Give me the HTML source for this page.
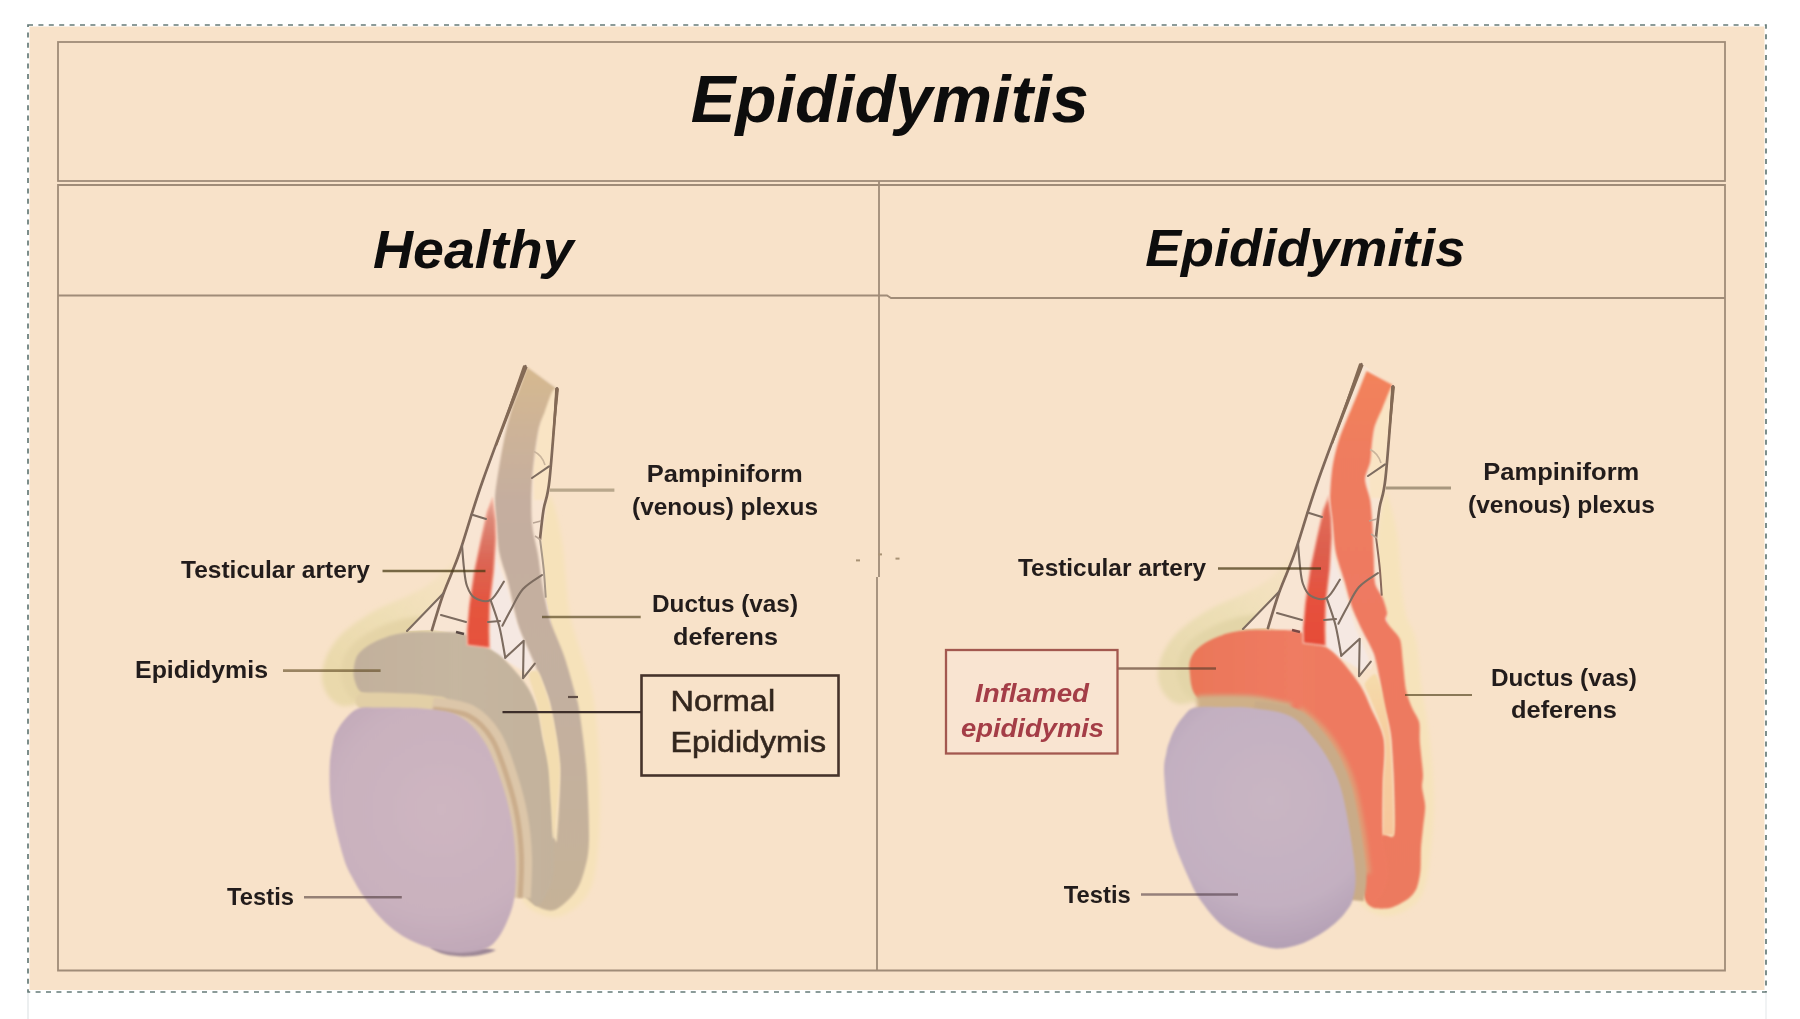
<!DOCTYPE html>
<html>
<head>
<meta charset="utf-8">
<title>Epididymitis</title>
<style>
html,body{margin:0;padding:0;background:#ffffff;}
body{width:1800px;height:1019px;overflow:hidden;font-family:"Liberation Sans",sans-serif;}
svg{display:block;}
text{font-family:"Liberation Sans",sans-serif;}
.lbl{font-weight:bold;font-size:24px;fill:#231c1a;}
.hd{font-weight:bold;font-style:italic;fill:#0d0b0b;}
.ln{stroke:#8c7868;stroke-width:2;fill:none;}
.tb{stroke:#a08c78;stroke-width:1.8;fill:none;}
</style>
</head>
<body>
<svg width="1800" height="1019" viewBox="0 0 1800 1019">
<defs>
<filter id="b1" filterUnits="userSpaceOnUse" x="0" y="0" width="1800" height="1019"><feGaussianBlur stdDeviation="1"/></filter>
<filter id="b2" filterUnits="userSpaceOnUse" x="0" y="0" width="1800" height="1019"><feGaussianBlur stdDeviation="2.2"/></filter>
<filter id="b4" filterUnits="userSpaceOnUse" x="0" y="0" width="1800" height="1019"><feGaussianBlur stdDeviation="4"/></filter>
<filter id="tb" filterUnits="userSpaceOnUse" x="0" y="0" width="1800" height="1019"><feGaussianBlur stdDeviation="0.55"/></filter>
<linearGradient id="gL" gradientUnits="userSpaceOnUse" x1="0" y1="366" x2="0" y2="910">
<stop offset="0" stop-color="#d6b98f"/><stop offset="0.12" stop-color="#cdb398"/><stop offset="0.25" stop-color="#c5ae9f"/><stop offset="0.6" stop-color="#c3b0a0"/><stop offset="1" stop-color="#c6b298"/></linearGradient>
<linearGradient id="gE" gradientUnits="userSpaceOnUse" x1="350" y1="0" x2="560" y2="0">
<stop offset="0" stop-color="#c2b09c"/><stop offset="0.5" stop-color="#c6b6a0"/><stop offset="1" stop-color="#c3b29c"/></linearGradient>
<radialGradient id="gT" gradientUnits="userSpaceOnUse" cx="440" cy="810" r="150">
<stop offset="0" stop-color="#ceb6c1"/><stop offset="0.7" stop-color="#c9b1be"/><stop offset="1" stop-color="#bfa7b7"/></radialGradient>
<linearGradient id="gA" gradientUnits="userSpaceOnUse" x1="0" y1="502" x2="0" y2="647">
<stop offset="0" stop-color="#e6a595"/><stop offset="0.12" stop-color="#dd8877"/><stop offset="0.4" stop-color="#dc6655"/><stop offset="0.7" stop-color="#e4553f"/><stop offset="1" stop-color="#e6513c"/></linearGradient>
<clipPath id="cTopL"><rect x="300" y="680" width="150" height="60"/></clipPath>
<clipPath id="cRightL"><rect x="420" y="680" width="140" height="250"/></clipPath>
<linearGradient id="gRL" gradientUnits="userSpaceOnUse" x1="0" y1="366" x2="0" y2="910">
<stop offset="0" stop-color="#f3835a"/><stop offset="0.15" stop-color="#ef7d5e"/><stop offset="0.4" stop-color="#ee7a62"/><stop offset="1" stop-color="#ec7a5e"/></linearGradient>
<linearGradient id="gRE" gradientUnits="userSpaceOnUse" x1="1186" y1="0" x2="1396" y2="0">
<stop offset="0" stop-color="#ea7758"/><stop offset="0.5" stop-color="#ef7b62"/><stop offset="1" stop-color="#ee7a60"/></linearGradient>
<radialGradient id="gRT" gradientUnits="userSpaceOnUse" cx="1270" cy="800" r="150">
<stop offset="0" stop-color="#c9b6c3"/><stop offset="0.7" stop-color="#c3b0c1"/><stop offset="1" stop-color="#b39fb4"/></radialGradient>
<linearGradient id="gRA" gradientUnits="userSpaceOnUse" x1="0" y1="500" x2="0" y2="645">
<stop offset="0" stop-color="#e4705a"/><stop offset="0.35" stop-color="#dd5f4e"/><stop offset="0.7" stop-color="#e6513d"/><stop offset="1" stop-color="#e64c38"/></linearGradient>
<linearGradient id="gSl" gradientUnits="userSpaceOnUse" x1="0" y1="680" x2="0" y2="835"><stop offset="0" stop-color="#f5daaa"/><stop offset="0.3" stop-color="#f6cfa0"/><stop offset="1" stop-color="#f7c79c"/></linearGradient>
<linearGradient id="gHL" gradientUnits="userSpaceOnUse" x1="350" y1="680" x2="462" y2="555"><stop offset="0" stop-color="#ead9ac"/><stop offset="0.45" stop-color="#efdfb6"/><stop offset="1" stop-color="#f5e2c0" stop-opacity="0.5"/></linearGradient>
<linearGradient id="gHR" gradientUnits="userSpaceOnUse" x1="1186" y1="678" x2="1298" y2="553"><stop offset="0" stop-color="#e8d9ae"/><stop offset="0.45" stop-color="#eddfb6"/><stop offset="1" stop-color="#f5e2c0" stop-opacity="0.5"/></linearGradient>
</defs>
<!-- page -->
<rect x="0" y="0" width="1800" height="1019" fill="#ffffff"/>
<rect x="29.5" y="26.5" width="1735" height="963.5" fill="#f8e2c9" filter="url(#tb)"/>
<rect x="28" y="25" width="1738" height="967" fill="none" stroke="#667b78" stroke-width="1.7" stroke-dasharray="5 5.4"/>
<line x1="28" y1="993" x2="28" y2="1019" stroke="#eceff0" stroke-width="2"/><line x1="1766" y1="993" x2="1766" y2="1019" stroke="#f1f3f4" stroke-width="2"/>
<!-- table frame -->
<g class="tb" filter="url(#tb)">
<rect x="58" y="42" width="1667" height="139"/>
<path d="M58 185 H1725 V970.5 H58 Z"/>
<path d="M58 295.5 H887 L891 298 H1725"/>
<path d="M879 181 V577 M877 577 V970"/>
</g>
<g fill="#a89274" filter="url(#tb)"><rect x="856" y="559.4" width="4" height="2"/><rect x="895.5" y="557.6" width="4" height="2"/><rect x="878.5" y="553.4" width="3.5" height="2"/></g>
<!-- ILLUSTRATIONS -->
<g id="left"><path d="M322.0 680.0C321.3 673.8 322.8 666.3 325.0 660.0C327.2 653.7 330.8 647.5 335.0 642.0C339.2 636.5 343.2 632.3 350.0 627.0C356.8 621.7 366.8 615.0 376.0 610.0C385.2 605.0 396.3 601.2 405.0 597.0C413.7 592.8 421.3 589.5 428.0 585.0C434.7 580.5 440.5 574.2 445.0 570.0C449.5 565.8 452.2 563.0 455.0 560.0C457.8 557.0 459.5 552.0 462.0 552.0C464.5 552.0 470.3 552.0 470.0 560.0C469.7 568.0 465.0 586.7 460.0 600.0C455.0 613.3 450.0 630.0 440.0 640.0C430.0 650.0 411.7 650.0 400.0 660.0C388.3 670.0 377.0 692.7 370.0 700.0C363.0 707.3 362.7 703.0 358.0 704.0C353.3 705.0 346.8 707.2 342.0 706.0C337.2 704.8 332.3 701.3 329.0 697.0C325.7 692.7 322.7 686.2 322.0 680.0Z" fill="url(#gHL)" filter="url(#b2)"/>
<path d="M341.0 678.0C339.8 671.8 341.2 665.5 343.0 660.0C344.8 654.5 347.8 649.5 352.0 645.0C356.2 640.5 361.3 636.8 368.0 633.0C374.7 629.2 383.3 624.7 392.0 622.0C400.7 619.3 412.0 616.5 420.0 617.0C428.0 617.5 443.3 619.5 440.0 625.0C436.7 630.5 411.3 639.2 400.0 650.0C388.7 660.8 378.0 681.7 372.0 690.0C366.0 698.3 367.7 698.8 364.0 700.0C360.3 701.2 353.8 700.7 350.0 697.0C346.2 693.3 342.2 684.2 341.0 678.0Z" fill="#e5d4a7" filter="url(#b2)"/>
<path d="M548.0 500.0C550.3 490.8 551.7 498.3 554.0 505.0C556.3 511.7 560.0 527.5 562.0 540.0C564.0 552.5 564.7 567.5 566.0 580.0C567.3 592.5 567.7 603.3 570.0 615.0C572.3 626.7 576.3 637.5 580.0 650.0C583.7 662.5 589.0 675.0 592.0 690.0C595.0 705.0 596.7 721.7 598.0 740.0C599.3 758.3 600.0 781.7 600.0 800.0C600.0 818.3 599.3 835.8 598.0 850.0C596.7 864.2 595.3 875.7 592.0 885.0C588.7 894.3 584.0 900.7 578.0 906.0C572.0 911.3 563.7 916.3 556.0 917.0C548.3 917.7 537.7 913.7 532.0 910.0C526.3 906.3 520.7 900.0 522.0 895.0C523.3 890.0 533.7 895.8 540.0 880.0C546.3 864.2 556.7 830.0 560.0 800.0C563.3 770.0 562.5 726.7 560.0 700.0C557.5 673.3 548.3 663.3 545.0 640.0C541.7 616.7 539.5 583.3 540.0 560.0C540.5 536.7 545.7 509.2 548.0 500.0Z" fill="#f6e2ba" filter="url(#b2)"/>
<path d="M526.0 366.0L557.0 388.0L549.5 480.0L541.0 539.0L546.0 598.0L552.0 627.0L535.0 672.0L503.0 659.0L490.0 649.0L464.0 634.0L432.0 630.0L407.0 631.0L443.0 593.0L461.0 548.0L483.0 480.0Z" fill="#f8e5d3"/>
<path d="M545.0 385.0L557.0 389.0L550.0 480.0L548.0 500.0L534.0 500.0L533.0 470.0L538.0 432.0Z" fill="#f9e4c4" filter="url(#b1)"/>
<path d="M497.0 560.0L506.0 583.0L514.0 612.0L520.0 631.0L533.0 661.0L528.0 674.0L503.0 659.0L490.0 649.0L489.0 605.0L493.0 571.0L495.0 540.0Z" fill="#f5e8e2" filter="url(#b1)"/>
<path d="M556.5 388.5C555.8 389.0 553.7 388.6 552.0 392.0C550.3 395.4 547.1 405.0 545.0 411.0C542.9 417.0 540.0 421.6 538.0 432.0C536.0 442.4 532.9 466.2 532.0 480.0C531.1 493.8 531.1 513.0 532.0 524.0C532.9 535.0 536.3 544.8 537.8 553.6C539.3 562.5 540.5 574.2 542.0 583.0C543.5 591.8 546.4 605.9 548.0 612.5C549.6 619.1 550.0 620.2 552.4 626.8C554.8 633.4 560.8 646.3 564.2 656.2C567.6 666.1 572.7 684.6 575.0 693.0C577.3 701.4 577.8 700.5 579.5 712.0C581.2 723.5 585.1 750.8 586.5 770.0C587.9 789.2 589.3 825.0 589.0 840.0C588.7 855.0 586.7 862.0 584.5 870.0C582.3 878.0 579.4 886.9 574.5 893.0C569.6 899.1 559.2 909.9 552.0 910.6C544.8 911.4 531.0 904.1 526.5 898.0C522.0 891.9 520.0 877.2 522.0 870.0C524.0 862.8 535.4 854.8 540.0 850.0C544.6 845.2 550.5 839.8 553.0 838.0C555.5 836.2 556.0 848.4 557.0 838.0C558.0 827.6 560.5 787.6 559.7 768.7C558.9 749.8 553.4 723.4 551.4 712.0C549.4 700.6 549.2 700.7 546.5 693.0C543.8 685.3 537.2 669.9 533.3 660.6C529.4 651.3 523.2 638.2 520.5 631.0C517.8 623.8 516.8 619.7 515.0 612.5C513.2 605.3 510.6 591.8 508.3 583.0C506.0 574.2 501.3 562.5 499.5 553.6C497.7 544.8 497.2 532.0 496.5 524.0C495.8 516.0 494.9 506.6 495.0 500.0C495.1 493.4 495.6 489.0 497.0 480.0C498.4 471.0 501.8 450.8 504.0 440.0C506.2 429.2 509.8 415.5 512.0 408.0C514.2 400.5 516.8 396.1 519.0 390.0C521.2 383.9 525.8 370.4 527.0 367.0Z" fill="url(#gL)" filter="url(#b1)"/>
<path d="M353.5 672.0C353.7 668.0 354.7 660.0 357.0 656.0C359.3 652.0 363.9 648.1 369.0 645.0C374.1 641.9 384.4 637.6 391.0 635.6C397.6 633.6 405.6 632.5 413.0 632.0C420.4 631.5 432.3 631.7 440.0 632.0C447.7 632.3 457.0 631.5 464.5 634.0C472.0 636.5 484.1 645.2 490.0 649.0C495.9 652.8 498.6 653.8 503.9 659.0C509.2 664.2 520.5 676.7 525.5 684.0C530.5 691.3 534.3 699.3 537.0 707.7C539.7 716.1 541.5 730.9 543.5 740.0C545.5 749.1 548.5 754.0 550.0 768.7C551.5 783.4 553.2 821.3 553.5 838.0C553.8 854.7 554.8 870.0 552.0 880.0C549.2 890.0 540.5 909.5 535.0 905.0C529.5 900.5 520.2 868.8 515.0 850.0C509.8 831.2 506.8 798.0 500.0 780.0C493.2 762.0 480.5 741.1 470.0 730.0C459.5 718.9 440.5 710.6 430.0 706.0C419.5 701.4 408.2 700.4 400.0 699.0C391.8 697.6 380.9 697.5 375.0 696.5C369.1 695.5 363.9 694.0 361.0 692.0C358.1 690.0 356.6 686.0 355.5 683.0C354.4 680.0 353.3 676.0 353.5 672.0Z" fill="url(#gE)" filter="url(#b1)"/>
<path d="M529.0 674.0C528.3 676.4 531.8 685.5 533.0 690.0C534.2 694.5 536.6 701.0 538.0 707.7C539.4 714.4 542.1 731.9 543.5 740.0C544.9 748.1 547.5 760.0 548.5 768.7C549.5 777.4 550.3 795.8 551.0 805.0C551.7 814.2 552.6 838.0 553.5 838.0C554.4 838.0 556.6 814.2 557.5 805.0C558.4 795.8 560.1 777.4 560.0 768.7C559.9 760.0 558.1 747.6 557.0 740.0C555.9 732.4 553.2 718.3 551.8 712.0C550.4 705.7 548.3 698.3 546.5 693.0C544.7 687.7 540.3 674.5 538.0 672.0C535.7 669.5 529.7 671.6 529.0 674.0Z" fill="#f3ddb0" filter="url(#b1)"/>
<path d="M430 947C445 960 480 958 496 950C480 946 450 946 430 947Z" fill="#9d8796" filter="url(#b1)"/>
<path d="M364.0 701.0C366.7 701.0 372.3 700.8 380.0 701.0C387.7 701.2 400.0 701.3 410.0 702.0C420.0 702.7 435.0 704.5 440.0 705.0" fill="none" stroke="#e2cfa6" stroke-width="17" stroke-linecap="round" filter="url(#b1)"/>
<path d="M431.7 709.0C437.6 710.1 457.2 710.7 467.0 715.7C476.8 720.7 484.0 728.5 490.5 739.0C497.0 749.5 501.8 765.4 506.0 778.5C510.2 791.6 513.7 804.6 516.0 817.7C518.3 830.8 519.5 843.6 520.0 857.0C520.5 870.4 518.9 891.0 518.7 897.8" fill="none" stroke="#dcc6a9" stroke-width="24" stroke-linecap="butt" filter="url(#b1)"/>
<path d="M433.2 709.0C439.1 710.1 458.7 710.7 468.5 715.7C478.3 720.7 485.5 728.5 492.0 739.0C498.5 749.5 503.2 765.4 507.5 778.5C511.8 791.6 515.2 804.6 517.5 817.7C519.8 830.8 521.0 843.6 521.5 857.0C522.0 870.4 520.4 891.0 520.2 897.8" fill="none" stroke="#cbad8c" stroke-width="5" stroke-linecap="butt" filter="url(#b1)"/>
<path d="M359.0 708.2C364.6 706.6 368.5 707.5 380.0 707.6C391.5 707.7 414.7 707.5 428.0 709.0C441.3 710.5 450.7 711.2 460.0 716.5C469.3 721.8 477.2 730.6 484.0 741.0C490.8 751.4 496.0 766.2 500.5 779.0C505.0 791.8 508.5 805.0 511.0 818.0C513.5 831.0 514.9 843.8 515.5 857.0C516.1 870.2 516.1 885.8 514.5 897.0C512.9 908.2 509.4 916.3 506.0 924.0C502.6 931.7 498.3 938.6 494.0 943.0C489.7 947.4 486.0 948.8 480.0 950.5C474.0 952.2 465.7 953.2 458.0 953.0C450.3 952.8 441.7 951.0 434.0 949.0C426.3 947.0 418.7 944.2 412.0 941.0C405.3 937.8 399.7 934.3 394.0 930.0C388.3 925.7 383.0 920.5 378.0 915.0C373.0 909.5 368.3 903.3 364.0 897.0C359.7 890.7 355.4 883.7 352.0 877.0C348.6 870.3 346.8 868.5 343.4 857.0C340.0 845.5 333.9 822.7 331.6 808.0C329.3 793.3 329.4 779.7 329.6 768.7C329.8 757.7 331.7 748.5 333.0 742.0C334.3 735.5 335.2 734.1 337.5 730.0C339.8 725.9 342.9 721.1 346.5 717.5C350.1 713.9 353.4 709.9 359.0 708.2Z" fill="url(#gT)" filter="url(#b1)"/>
<path d="M492.0 502.0L494.5 520.0L495.0 539.0L493.0 571.0L489.0 605.0L488.4 630.0L488.8 647.0L468.0 644.5L467.8 630.0L470.0 605.0L475.0 571.0L481.8 539.0L488.0 512.0Z" fill="#f4b5a2" stroke="#f4b5a2" stroke-width="3" filter="url(#b1)"/>
<path d="M492.0 502.0L494.5 520.0L495.0 539.0L493.0 571.0L489.0 605.0L488.4 630.0L488.8 647.0L468.0 644.5L467.8 630.0L470.0 605.0L475.0 571.0L481.8 539.0L488.0 512.0Z" fill="url(#gA)" filter="url(#b1)"/>
<g filter="url(#tb)">
<path d="M525.4 366.2C518.3 385.2 493.7 449.8 483.0 480.0C472.3 510.2 466.3 532.5 461.2 547.7C456.1 562.9 455.6 563.0 452.4 571.3C449.2 579.6 445.4 587.9 442.0 597.7C438.6 607.5 433.7 624.6 432.0 630.0" stroke="#80695a" stroke-width="2.7" fill="none" stroke-linecap="round" stroke-linejoin="round"/>
<path d="M523.2 365.2L527.6 367.2L497 446L495.5 445.4Z" fill="#846a55"/>
<path d="M557.0 388.3C555.8 403.6 551.7 459.8 549.5 480.0C547.3 500.2 545.2 499.6 543.6 509.4C542.0 519.2 540.6 534.1 540.0 539.0" stroke="#80695a" stroke-width="2.7" fill="none" stroke-linecap="round" stroke-linejoin="round"/>
<path d="M540.0 539.0C540.6 543.9 542.6 558.5 543.6 568.3C544.6 578.1 545.4 592.8 545.8 597.7" stroke="#a89888" stroke-width="2" fill="none"/>
<path d="M555.2 388L559 388.6L553 446L551.8 446Z" fill="#846a55"/>
<path d="M443.5 593.3L407 631" stroke="#7d6c60" stroke-width="2.1" fill="none" stroke-linecap="round" stroke-linejoin="round"/>
<path d="M462.0 544.8C462.3 548.7 463.2 561.4 464.0 568.3C464.8 575.2 465.2 581.1 467.0 586.0C468.8 590.9 470.6 595.4 474.5 597.7C478.4 600.0 485.7 602.7 490.6 600.0C495.5 597.3 501.7 584.7 503.9 581.6" stroke="#7d6c60" stroke-width="2.1" fill="none" stroke-linecap="round" stroke-linejoin="round"/>
<path d="M490.6 600.0C492.1 604.5 497.1 617.6 499.5 627.2C501.9 636.8 504.3 652.6 505.3 657.7" stroke="#7d6c60" stroke-width="2.1" fill="none" stroke-linecap="round" stroke-linejoin="round"/>
<path d="M505.3 657.7L523.7 640.8L523 678.3L534.8 663.6" stroke="#7d6c60" stroke-width="2.1" fill="none" stroke-linecap="round" stroke-linejoin="round"/>
<path d="M542.0 575.0C538.8 577.3 528.2 583.2 523.0 589.0C517.8 594.8 514.4 603.4 511.0 609.5C507.6 615.6 503.8 623.0 502.4 625.7" stroke="#7d6c60" stroke-width="2.1" fill="none" stroke-linecap="round" stroke-linejoin="round"/>
<path d="M471.5 514.6L486 519" stroke="#7d6c60" stroke-width="2.1" fill="none" stroke-linecap="round" stroke-linejoin="round"/>
<path d="M441 615L466 622" stroke="#7d6c60" stroke-width="2.1" fill="none" stroke-linecap="round" stroke-linejoin="round"/>
<path d="M488 622L500 621" stroke="#7d6c60" stroke-width="2.1" fill="none" stroke-linecap="round" stroke-linejoin="round"/>
<path d="M532 478L549 466.3" stroke="#7d6c60" stroke-width="2.1" fill="none" stroke-linecap="round" stroke-linejoin="round"/>
<path d="M534 451.5Q542 455 545 465" stroke="#c9b49c" stroke-width="1.6" fill="none"/>
<path d="M533 523L541 521M535 536L541 540" stroke="#b8a494" stroke-width="1.6" fill="none"/>
<path d="M456 632L464 634" stroke="#5a4a44" stroke-width="2.5" fill="none"/>
</g>
<g filter="url(#tb)" fill="none">
<path d="M549.7 490.1H614.4" stroke="#b9a78c" stroke-width="3.2"/>
<path d="M382.5 571H485.5" stroke="rgba(70,55,20,0.72)" stroke-width="2.5"/>
<path d="M542 617H640.7" stroke="rgba(80,65,30,0.66)" stroke-width="2.3"/>
<path d="M283 670.6H380.6" stroke="rgba(90,70,30,0.6)" stroke-width="2.6"/>
<path d="M304 897.3H401.8" stroke="rgba(70,50,50,0.55)" stroke-width="2.4"/>

<path d="M502.5 712.2H641" stroke="#3c2e2a" stroke-width="2.2"/>
<path d="M568 697H578" stroke="#5e4e44" stroke-width="2.2"/>
<rect x="641.5" y="675.5" width="197" height="100" stroke="#46332c" stroke-width="2.6"/>
</g></g>
<g id="right"><path d="M1158.0 678.0C1157.3 671.8 1158.8 664.3 1161.0 658.0C1163.2 651.7 1166.8 645.5 1171.0 640.0C1175.2 634.5 1179.2 630.3 1186.0 625.0C1192.8 619.7 1202.8 613.0 1212.0 608.0C1221.2 603.0 1232.3 599.2 1241.0 595.0C1249.7 590.8 1257.3 587.5 1264.0 583.0C1270.7 578.5 1276.5 572.2 1281.0 568.0C1285.5 563.8 1288.2 561.0 1291.0 558.0C1293.8 555.0 1295.5 550.0 1298.0 550.0C1300.5 550.0 1306.3 550.0 1306.0 558.0C1305.7 566.0 1301.0 584.7 1296.0 598.0C1291.0 611.3 1286.0 628.0 1276.0 638.0C1266.0 648.0 1247.7 648.0 1236.0 658.0C1224.3 668.0 1213.0 690.7 1206.0 698.0C1199.0 705.3 1198.7 701.0 1194.0 702.0C1189.3 703.0 1182.8 705.2 1178.0 704.0C1173.2 702.8 1168.3 699.3 1165.0 695.0C1161.7 690.7 1158.7 684.2 1158.0 678.0Z" fill="url(#gHR)" filter="url(#b2)"/>
<path d="M1177.0 676.0C1175.8 669.8 1177.2 663.5 1179.0 658.0C1180.8 652.5 1183.8 647.5 1188.0 643.0C1192.2 638.5 1197.3 634.8 1204.0 631.0C1210.7 627.2 1219.3 622.7 1228.0 620.0C1236.7 617.3 1248.0 614.5 1256.0 615.0C1264.0 615.5 1279.3 617.5 1276.0 623.0C1272.7 628.5 1247.3 637.2 1236.0 648.0C1224.7 658.8 1214.0 679.7 1208.0 688.0C1202.0 696.3 1203.7 696.8 1200.0 698.0C1196.3 699.2 1189.8 698.7 1186.0 695.0C1182.2 691.3 1178.2 682.2 1177.0 676.0Z" fill="#e3d5a8" filter="url(#b2)"/>
<path d="M1384.0 498.0C1386.3 488.5 1387.7 496.0 1390.0 503.0C1392.3 510.0 1396.2 527.2 1398.0 540.0C1399.8 552.8 1399.7 567.5 1401.0 580.0C1402.3 592.5 1403.5 605.0 1406.0 615.0C1408.5 625.0 1413.3 627.5 1416.0 640.0C1418.7 652.5 1419.7 673.3 1422.0 690.0C1424.3 706.7 1428.0 721.7 1430.0 740.0C1432.0 758.3 1433.8 781.7 1434.0 800.0C1434.2 818.3 1432.7 835.0 1431.0 850.0C1429.3 865.0 1427.5 880.3 1424.0 890.0C1420.5 899.7 1416.0 903.7 1410.0 908.0C1404.0 912.3 1395.0 915.7 1388.0 916.0C1381.0 916.3 1373.0 913.5 1368.0 910.0C1363.0 906.5 1356.7 900.0 1358.0 895.0C1359.3 890.0 1369.7 895.8 1376.0 880.0C1382.3 864.2 1392.7 830.0 1396.0 800.0C1399.3 770.0 1398.5 726.7 1396.0 700.0C1393.5 673.3 1384.3 663.3 1381.0 640.0C1377.7 616.7 1375.5 583.7 1376.0 560.0C1376.5 536.3 1381.7 507.5 1384.0 498.0Z" fill="#f6e3bb" filter="url(#b2)"/>
<path d="M1362.0 364.0L1393.0 386.0L1385.5 478.0L1377.0 537.0L1382.0 596.0L1388.0 625.0L1371.0 670.0L1339.0 657.0L1326.0 647.0L1300.0 632.0L1268.0 628.0L1243.0 629.0L1279.0 591.0L1297.0 546.0L1319.0 478.0Z" fill="#f8e5d3"/>
<path d="M1381.0 383.0L1393.0 387.0L1386.0 478.0L1384.0 498.0L1370.0 498.0L1369.0 468.0L1374.0 430.0Z" fill="#f9e4c4" filter="url(#b1)"/>
<path d="M1333.0 558.0L1342.0 581.0L1350.0 610.0L1356.0 629.0L1369.0 659.0L1364.0 672.0L1339.0 657.0L1326.0 647.0L1325.0 603.0L1329.0 569.0L1331.0 538.0Z" fill="#f5e8e2" filter="url(#b1)"/>
<path d="M1392.6 385.0C1392.2 385.8 1390.7 387.8 1389.3 391.0C1387.9 394.2 1384.0 404.2 1382.0 408.9C1380.0 413.6 1376.0 421.6 1374.6 426.5C1373.2 431.4 1372.3 441.0 1371.7 445.7C1371.1 450.4 1371.1 457.4 1370.2 461.9C1369.3 466.4 1365.0 474.4 1365.0 479.5C1365.0 484.6 1369.2 494.1 1370.2 500.0C1371.2 505.9 1371.8 516.9 1372.3 524.0C1372.8 531.1 1373.3 545.7 1373.7 553.6C1374.1 561.5 1373.8 577.1 1375.0 583.0C1376.2 588.9 1381.0 593.8 1382.6 597.7C1384.2 601.6 1386.6 609.6 1387.0 612.5C1387.4 615.4 1384.9 617.3 1385.5 619.4C1386.1 621.5 1389.4 625.6 1391.4 628.3C1393.4 631.0 1398.7 635.3 1400.2 640.0C1401.7 644.7 1402.2 656.9 1403.0 663.6C1403.8 670.3 1404.8 684.1 1406.0 690.0C1407.2 695.9 1410.2 703.4 1412.0 707.7C1413.8 712.0 1418.3 718.0 1419.3 722.5C1420.3 727.0 1419.3 734.7 1419.8 741.6C1420.3 748.5 1422.7 767.9 1423.0 774.0C1423.3 780.1 1421.7 782.7 1422.0 787.0C1422.3 791.3 1425.1 800.8 1425.2 806.3C1425.3 811.8 1423.6 822.2 1423.0 828.0C1422.4 833.8 1421.2 843.8 1420.9 849.5C1420.6 855.2 1421.0 865.8 1420.4 871.0C1419.8 876.2 1418.3 884.7 1416.6 888.4C1414.9 892.1 1411.5 896.4 1408.0 899.0C1404.5 901.6 1395.3 906.6 1390.7 907.8C1386.1 909.0 1376.9 909.0 1373.4 907.8C1369.9 906.6 1366.6 904.0 1364.8 899.0C1363.0 894.0 1359.0 876.5 1360.0 870.0C1361.0 863.5 1368.9 854.7 1372.0 850.0C1375.1 845.3 1380.1 836.5 1383.0 834.4C1385.9 832.3 1392.4 841.0 1393.9 834.4C1395.4 827.8 1394.2 797.4 1393.9 784.8C1393.6 772.2 1392.1 748.3 1391.4 740.0C1390.7 731.7 1389.6 727.8 1388.4 722.5C1387.2 717.2 1383.7 706.3 1382.5 700.4C1381.3 694.5 1380.8 684.6 1379.6 678.3C1378.4 672.0 1376.0 659.6 1373.7 653.3C1371.4 647.0 1365.1 636.4 1362.5 631.0C1359.9 625.6 1355.8 616.9 1354.0 612.5C1352.2 608.1 1350.2 601.6 1349.0 597.7C1347.8 593.8 1346.7 588.9 1345.0 583.0C1343.3 577.1 1337.7 561.5 1336.0 553.6C1334.3 545.7 1333.3 531.1 1332.5 524.0C1331.7 516.9 1330.0 507.5 1330.0 500.0C1330.0 492.5 1331.1 475.9 1332.4 467.7C1333.7 459.5 1336.2 448.1 1339.5 438.3C1342.8 428.5 1353.9 403.0 1357.5 394.0C1361.1 385.0 1365.3 374.1 1366.5 371.0Z" fill="url(#gRL)" filter="url(#b1)"/>
<path d="M1189.5 670.0C1188.3 663.1 1190.7 658.0 1193.0 654.0C1195.3 650.0 1199.9 646.1 1205.0 643.0C1210.1 639.9 1220.4 635.6 1227.0 633.6C1233.6 631.6 1241.7 630.5 1249.0 630.0C1256.3 629.5 1268.3 629.7 1276.0 630.0C1283.7 630.3 1293.0 629.5 1300.5 632.0C1308.0 634.5 1320.1 643.0 1326.0 647.0C1331.9 651.0 1334.7 653.2 1339.9 659.0C1345.1 664.8 1355.9 678.4 1360.5 685.7C1365.1 693.0 1367.3 699.6 1370.8 707.7C1374.3 715.8 1382.2 728.4 1384.0 740.0C1385.8 751.6 1383.2 770.6 1383.0 784.8C1382.8 799.0 1382.2 820.4 1383.0 834.4C1383.8 848.4 1389.8 867.7 1388.0 878.0C1386.2 888.3 1376.5 907.5 1371.0 903.0C1365.5 898.5 1356.2 866.8 1351.0 848.0C1345.8 829.2 1342.8 796.0 1336.0 778.0C1329.2 760.0 1316.5 738.2 1306.0 728.0C1295.5 717.8 1281.8 714.2 1266.0 710.0C1250.2 705.8 1212.5 706.0 1201.0 700.0C1189.5 694.0 1190.7 676.9 1189.5 670.0Z" fill="url(#gRE)" filter="url(#b1)"/>
<path d="M1383.0 835.0C1383.0 832.1 1383.2 816.0 1383.2 810.0C1383.2 804.0 1383.1 789.9 1383.3 783.6C1383.5 777.3 1385.2 761.6 1385.3 756.0C1385.4 750.4 1385.0 740.3 1384.0 735.5C1383.0 730.7 1378.6 719.4 1377.0 715.0C1375.4 710.6 1371.4 701.6 1370.0 698.0C1368.6 694.4 1364.1 686.8 1364.7 684.0C1365.3 681.2 1373.1 673.6 1375.0 674.0C1376.9 674.4 1379.8 682.7 1381.2 687.5C1382.6 692.3 1385.7 709.4 1386.7 715.0C1387.7 720.6 1389.4 730.7 1390.0 735.5C1390.6 740.3 1391.2 750.4 1391.5 756.0C1391.8 761.6 1392.7 777.3 1392.9 783.6C1393.1 789.9 1393.5 804.0 1393.6 810.0C1393.7 816.0 1393.9 832.1 1393.9 835.0Z" fill="url(#gSl)" filter="url(#b1)"/>
<path d="M1197.0 704.5C1201.5 704.4 1214.5 703.9 1224.0 704.0C1233.5 704.1 1242.8 703.7 1253.8 705.0C1264.8 706.3 1284.0 710.8 1290.0 712.0" fill="none" stroke="#cfb088" stroke-width="18" filter="url(#b2)"/>
<path d="M1293.6 715.6C1297.4 718.9 1309.8 727.9 1316.4 735.5C1323.1 743.1 1328.8 752.0 1333.5 761.0C1338.2 770.0 1341.5 777.7 1344.8 789.6C1348.1 801.5 1351.0 818.0 1353.4 832.2C1355.8 846.4 1358.1 867.9 1359.0 875.0" fill="none" stroke="#df9c76" stroke-width="24" stroke-linecap="butt" filter="url(#b2)"/>
<path d="M1253.8 708.0C1260.4 709.3 1283.2 711.0 1293.6 715.6C1304.0 720.2 1309.8 727.9 1316.4 735.5C1323.1 743.1 1328.8 752.0 1333.5 761.0C1338.2 770.0 1341.5 777.7 1344.8 789.6C1348.1 801.5 1351.0 818.0 1353.4 832.2C1355.8 846.4 1358.5 863.6 1359.0 875.0C1359.5 886.4 1356.7 896.2 1356.2 900.5" fill="none" stroke="#c9ab88" stroke-width="15" stroke-linecap="butt" filter="url(#b1)"/>
<path d="M1195.0 707.6C1201.8 706.1 1214.5 707.1 1224.0 707.2C1233.5 707.3 1241.0 706.5 1252.0 708.0C1263.0 709.5 1279.9 711.2 1290.0 716.0C1300.1 720.8 1305.8 729.2 1312.5 737.0C1319.2 744.8 1325.2 753.6 1330.0 762.5C1334.8 771.4 1338.2 778.8 1341.5 790.5C1344.8 802.2 1347.7 818.4 1350.0 832.5C1352.3 846.6 1355.0 863.8 1355.5 875.0C1356.0 886.2 1354.3 893.4 1352.7 899.5C1351.1 905.6 1348.6 907.8 1346.0 911.5C1343.4 915.2 1340.5 918.2 1337.0 921.5C1333.5 924.8 1329.4 928.0 1325.0 931.0C1320.6 934.0 1315.5 937.0 1310.7 939.4C1305.9 941.8 1301.2 944.0 1296.0 945.5C1290.8 947.0 1284.4 948.4 1279.4 948.6C1274.4 948.9 1270.3 947.9 1266.0 947.0C1261.7 946.1 1258.8 945.3 1253.8 943.2C1248.8 941.1 1241.7 937.8 1236.0 934.5C1230.3 931.2 1225.0 928.2 1219.7 923.3C1214.4 918.4 1208.8 911.6 1204.0 905.0C1199.2 898.4 1196.7 895.6 1191.2 883.5C1185.8 871.4 1175.8 850.2 1171.3 832.2C1166.8 814.2 1165.0 788.7 1164.2 775.3C1163.4 761.9 1165.5 757.9 1166.5 752.0C1167.5 746.1 1168.6 743.9 1170.0 740.0C1171.4 736.1 1172.8 732.4 1175.0 728.5C1177.2 724.6 1180.2 720.0 1183.5 716.5C1186.8 713.0 1188.2 709.1 1195.0 707.6Z" fill="url(#gRT)" filter="url(#b1)"/>
<path d="M1328.0 500.0L1330.5 518.0L1331.0 537.0L1329.0 569.0L1325.0 603.0L1324.4 628.0L1324.8 645.0L1304.0 642.5L1303.8 628.0L1306.0 603.0L1311.0 569.0L1317.8 537.0L1324.0 510.0Z" fill="#f4b5a2" stroke="#f4b5a2" stroke-width="3" filter="url(#b1)"/>
<path d="M1328.0 500.0L1330.5 518.0L1331.0 537.0L1329.0 569.0L1325.0 603.0L1324.4 628.0L1324.8 645.0L1304.0 642.5L1303.8 628.0L1306.0 603.0L1311.0 569.0L1317.8 537.0L1324.0 510.0Z" fill="url(#gRA)" filter="url(#b1)"/>
<g filter="url(#tb)" transform="translate(836 -2)">
<path d="M525.4 366.2C518.3 385.2 493.7 449.8 483.0 480.0C472.3 510.2 466.3 532.5 461.2 547.7C456.1 562.9 455.6 563.0 452.4 571.3C449.2 579.6 445.4 587.9 442.0 597.7C438.6 607.5 433.7 624.6 432.0 630.0" stroke="#80695a" stroke-width="2.7" fill="none" stroke-linecap="round" stroke-linejoin="round"/>
<path d="M523.2 365.2L527.6 367.2L497 446L495.5 445.4Z" fill="#846a55"/>
<path d="M557.0 388.3C555.8 403.6 551.7 459.8 549.5 480.0C547.3 500.2 545.2 499.6 543.6 509.4C542.0 519.2 540.6 534.1 540.0 539.0" stroke="#80695a" stroke-width="2.7" fill="none" stroke-linecap="round" stroke-linejoin="round"/>
<path d="M540.0 539.0C540.6 543.9 542.6 558.5 543.6 568.3C544.6 578.1 545.4 592.8 545.8 597.7" stroke="#8a6a5c" stroke-width="2" fill="none"/>
<path d="M555.2 388L559 388.6L553 446L551.8 446Z" fill="#846a55"/>
<path d="M443.5 593.3L407 631" stroke="#7d6c60" stroke-width="2.1" fill="none" stroke-linecap="round" stroke-linejoin="round"/>
<path d="M462.0 544.8C462.3 548.7 463.2 561.4 464.0 568.3C464.8 575.2 465.2 581.1 467.0 586.0C468.8 590.9 470.6 595.4 474.5 597.7C478.4 600.0 485.7 602.7 490.6 600.0C495.5 597.3 501.7 584.7 503.9 581.6" stroke="#7d6c60" stroke-width="2.1" fill="none" stroke-linecap="round" stroke-linejoin="round"/>
<path d="M490.6 600.0C492.1 604.5 497.1 617.6 499.5 627.2C501.9 636.8 504.3 652.6 505.3 657.7" stroke="#7d6c60" stroke-width="2.1" fill="none" stroke-linecap="round" stroke-linejoin="round"/>
<path d="M505.3 657.7L523.7 640.8L523 678.3L534.8 663.6" stroke="#7d6c60" stroke-width="2.1" fill="none" stroke-linecap="round" stroke-linejoin="round"/>
<path d="M542.0 575.0C538.8 577.3 528.2 583.2 523.0 589.0C517.8 594.8 514.4 603.4 511.0 609.5C507.6 615.6 503.8 623.0 502.4 625.7" stroke="#7d6c60" stroke-width="2.1" fill="none" stroke-linecap="round" stroke-linejoin="round"/>
<path d="M471.5 514.6L486 519" stroke="#7d6c60" stroke-width="2.1" fill="none" stroke-linecap="round" stroke-linejoin="round"/>
<path d="M441 615L466 622" stroke="#7d6c60" stroke-width="2.1" fill="none" stroke-linecap="round" stroke-linejoin="round"/>
<path d="M488 622L500 621" stroke="#7d6c60" stroke-width="2.1" fill="none" stroke-linecap="round" stroke-linejoin="round"/>
<path d="M532 478L549 466.3" stroke="#7d6c60" stroke-width="2.1" fill="none" stroke-linecap="round" stroke-linejoin="round"/>
<path d="M534 451.5Q542 455 545 465" stroke="#c9b49c" stroke-width="1.6" fill="none"/>
<path d="M533 523L541 521M535 536L541 540" stroke="#b8a494" stroke-width="1.6" fill="none"/>
<path d="M456 632L464 634" stroke="#7a4a44" stroke-width="2.5" fill="none"/>
</g>
<g filter="url(#tb)" fill="none">
<path d="M1385.7 488H1451" stroke="#a8977f" stroke-width="3"/>
<path d="M1218 568.5H1321" stroke="rgba(70,55,20,0.72)" stroke-width="2.5"/>
<path d="M1405 695H1472" stroke="rgba(80,65,30,0.66)" stroke-width="2.2"/>
<path d="M1118 668.5H1216" stroke="rgba(90,60,40,0.65)" stroke-width="2.5"/>

<path d="M1141 894.5H1238" stroke="rgba(70,50,60,0.55)" stroke-width="2.3"/>

<rect x="946" y="650" width="171.5" height="103.5" fill="#f9e4d1" stroke="#a3584f" stroke-width="2.3"/>
</g></g>
<!-- TEXT -->
<g id="txt" filter="url(#tb)">
<text class="hd" x="690.8" y="121.6" font-size="66" textLength="398.0" lengthAdjust="spacingAndGlyphs">Epididymitis</text>
<text class="hd" x="373.0" y="268.4" font-size="53" textLength="200.5" lengthAdjust="spacingAndGlyphs">Healthy</text>
<text class="hd" x="1145.2" y="266.2" font-size="52.5" textLength="320.0" lengthAdjust="spacingAndGlyphs">Epididymitis</text>

<text class="lbl" x="181.0" y="577.5" textLength="189.0" lengthAdjust="spacingAndGlyphs">Testicular artery</text>
<text class="lbl" x="135.0" y="678.0" textLength="133.0" lengthAdjust="spacingAndGlyphs">Epididymis</text>
<text class="lbl" x="227.0" y="905.3" textLength="67.0" lengthAdjust="spacingAndGlyphs">Testis</text>
<text class="lbl" x="646.8" y="482.4" textLength="156.0" lengthAdjust="spacingAndGlyphs">Pampiniform</text>
<text class="lbl" x="632.0" y="514.9" textLength="186.0" lengthAdjust="spacingAndGlyphs">(venous) plexus</text>
<text class="lbl" x="652.0" y="611.9" textLength="146.0" lengthAdjust="spacingAndGlyphs">Ductus (vas)</text>
<text class="lbl" x="673.0" y="644.9" textLength="105.0" lengthAdjust="spacingAndGlyphs">deferens</text>

<text class="lbl" x="1018.0" y="575.6" textLength="188.0" lengthAdjust="spacingAndGlyphs">Testicular artery</text>
<text class="lbl" x="1063.8" y="903.0" textLength="67.0" lengthAdjust="spacingAndGlyphs">Testis</text>
<text class="lbl" x="1483.2" y="479.6" textLength="156.1" lengthAdjust="spacingAndGlyphs">Pampiniform</text>
<text class="lbl" x="1468.0" y="513.2" textLength="187.0" lengthAdjust="spacingAndGlyphs">(venous) plexus</text>
<text class="lbl" x="1490.9" y="685.9" textLength="146.0" lengthAdjust="spacingAndGlyphs">Ductus (vas)</text>
<text class="lbl" x="1511.0" y="718.2" textLength="105.9" lengthAdjust="spacingAndGlyphs">deferens</text>
<text x="670.6" y="710.6" font-size="29" fill="#33261f" stroke="#33261f" stroke-width="0.55" textLength="104.5" lengthAdjust="spacingAndGlyphs">Normal</text>
<text x="670.6" y="751.8" font-size="29" fill="#33261f" stroke="#33261f" stroke-width="0.55" textLength="155.5" lengthAdjust="spacingAndGlyphs">Epididymis</text>
<text x="975.0" y="701.6" font-size="25" font-weight="bold" font-style="italic" fill="#a43e46" textLength="114.0" lengthAdjust="spacingAndGlyphs">Inflamed</text>
<text x="961.0" y="736.8" font-size="25" font-weight="bold" font-style="italic" fill="#a43e46" textLength="143.1" lengthAdjust="spacingAndGlyphs">epididymis</text>
</g>
</svg>
</body>
</html>
